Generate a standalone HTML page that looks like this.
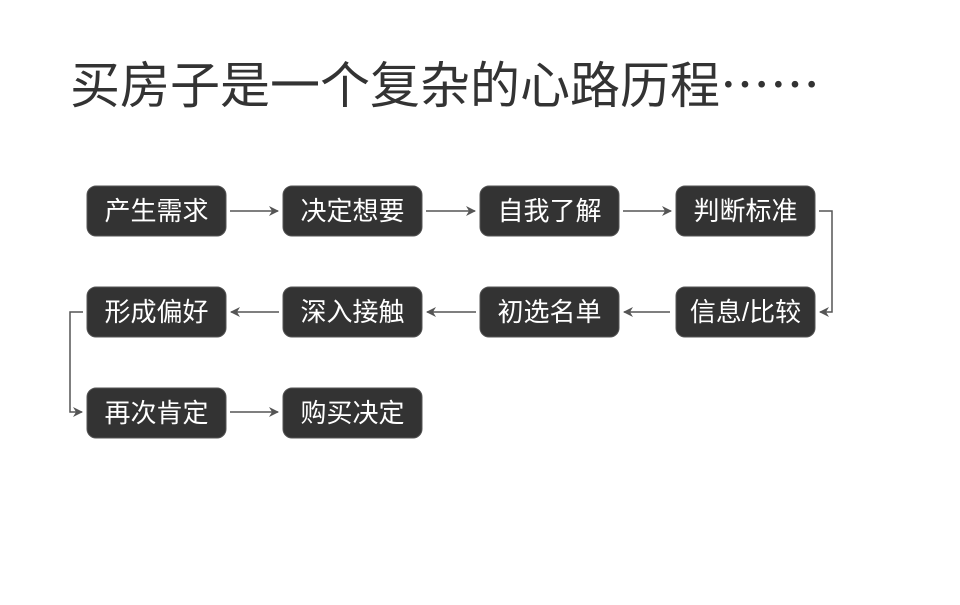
<!DOCTYPE html>
<html><head><meta charset="utf-8"><style>
html,body{margin:0;padding:0;background:#fff;}
svg text{font-family:"Liberation Sans","Noto Sans CJK SC",sans-serif;}
</style></head><body>
<svg width="960" height="600" xmlns="http://www.w3.org/2000/svg">
<defs><marker id="a" markerWidth="10" markerHeight="10" refX="9" refY="5" orient="auto" markerUnits="userSpaceOnUse"><path d="M0,0 L10,5 L0,10 L3,5 z" fill="#555"/></marker></defs>
<text x="70" y="103" font-size="50" fill="#333">买房子是一个复杂的心路历程<tspan style="font-family:'Noto Sans CJK SC',sans-serif">⋯⋯</tspan></text>
<g fill="#333" stroke="#555" stroke-width="1">
<rect x="87" y="186" width="139" height="50" rx="9"/>
<rect x="283" y="186" width="139" height="50" rx="9"/>
<rect x="480" y="186" width="139" height="50" rx="9"/>
<rect x="676" y="186" width="139" height="50" rx="9"/>
<rect x="87" y="287" width="139" height="50" rx="9"/>
<rect x="283" y="287" width="139" height="50" rx="9"/>
<rect x="480" y="287" width="139" height="50" rx="9"/>
<rect x="676" y="287" width="139" height="50" rx="9"/>
<rect x="87" y="388" width="139" height="50" rx="9"/>
<rect x="283" y="388" width="139" height="50" rx="9"/>
</g>
<g fill="#fff" font-size="26" text-anchor="middle">
<text x="156.5" y="220">产生需求</text>
<text x="352.5" y="220">决定想要</text>
<text x="549.5" y="220">自我了解</text>
<text x="745.5" y="220">判断标准</text>
<text x="156.5" y="321">形成偏好</text>
<text x="352.5" y="321">深入接触</text>
<text x="549.5" y="321">初选名单</text>
<text x="745.5" y="321">信息/比较</text>
<text x="156.5" y="422">再次肯定</text>
<text x="352.5" y="422">购买决定</text>
</g>
<g stroke="#555" stroke-width="1.5" fill="none" marker-end="url(#a)">
<line x1="230" y1="211" x2="278" y2="211"/>
<line x1="426" y1="211" x2="475" y2="211"/>
<line x1="623" y1="211" x2="671" y2="211"/>
<polyline points="819,211 832,211 832,312 820,312"/>
<line x1="670" y1="312" x2="624" y2="312"/>
<line x1="476" y1="312" x2="427" y2="312"/>
<line x1="279" y1="312" x2="231" y2="312"/>
<polyline points="83,312 70,312 70,412 82,412"/>
<line x1="230" y1="412" x2="278" y2="412"/>
</g>
</svg>
</body></html>
